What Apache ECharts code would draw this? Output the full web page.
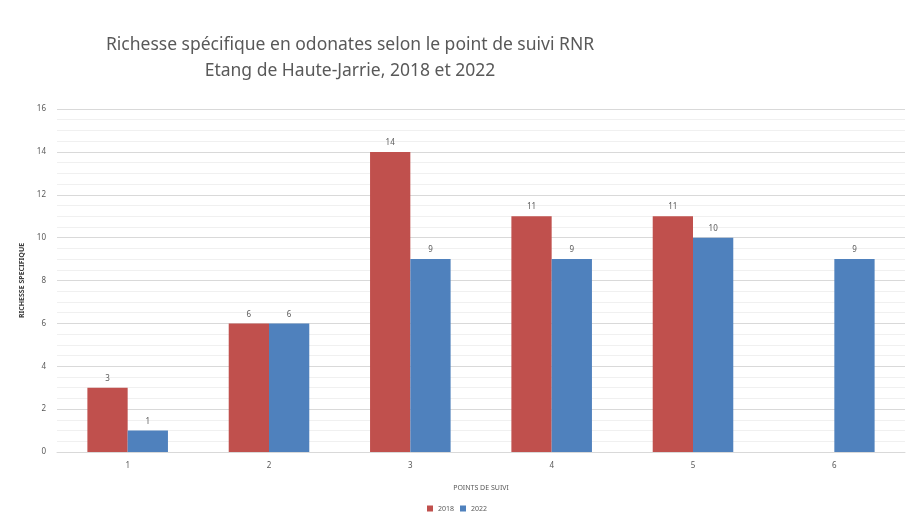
<!DOCTYPE html>
<html>
<head>
<meta charset="utf-8">
<script src="https://cdn.jsdelivr.net/npm/echarts@6/dist/echarts.min.js"></script>
<style>
html,body{margin:0;padding:0;background:#fff;}
#main{width:914px;height:517px;}
</style>
</head>
<body>
<div id="main"></div>
<script>
const categories = ['1', '2', '3', '4', '5', '6'];
const values2018 = [3, 6, 14, 11, 11, null];
const values2022 = [1, 6, 9, 9, 10, 9];
const seriesNames = ['2018', '2022'];
const titleLines = ['Richesse spécifique en odonates selon le point de suivi RNR', 'Etang de Haute-Jarrie, 2018 et 2022'];

const chart = echarts.init(document.getElementById('main'), null, {renderer: 'canvas'});
const labelStyle = {show: true, position: 'top', color: '#595959', fontSize: 8, distance: 5, fontFamily: 'Noto Sans'};
chart.setOption({
  animation: false,
  backgroundColor: '#fff',
  title: {
    text: titleLines.join('\n'),
    left: 345, top: 27, textAlign: 'center',
    textStyle: {fontFamily: 'Noto Sans', fontWeight: 'normal', fontSize: 17.5, color: '#595959', lineHeight: 26}
  },
  legend: {
    data: seriesNames, bottom: 0, left: 'center',
    itemWidth: 6, itemHeight: 6, itemGap: 6, icon: 'rect',
    textStyle: {fontSize: 7, color: '#595959', fontFamily: 'Noto Sans'}
  },
  grid: {left: 57, right: 9, top: 109, bottom: 65},
  xAxis: {
    type: 'category', data: categories,
    name: 'POINTS DE SUIVI', nameLocation: 'middle', nameGap: 32,
    nameTextStyle: {fontSize: 7, color: '#595959', fontFamily: 'Noto Sans'},
    axisLine: {lineStyle: {color: '#d9d9d9'}},
    axisTick: {show: false},
    axisLabel: {fontSize: 8, color: '#595959', margin: 10, fontFamily: 'Noto Sans'}
  },
  yAxis: {
    type: 'value', min: 0, max: 16, interval: 2,
    name: 'RICHESSE SPECIFIQUE', nameLocation: 'middle', nameGap: 30,
    nameTextStyle: {fontSize: 7, color: '#404040', fontFamily: 'Noto Sans', fontWeight: 'bold'},
    axisLine: {show: false}, axisTick: {show: false},
    axisLabel: {fontSize: 8, color: '#595959', margin: 11, fontFamily: 'Noto Sans'},
    splitLine: {lineStyle: {color: '#d9d9d9', width: 1}},
    minorTick: {show: false, splitNumber: 4},
    minorSplitLine: {show: true, lineStyle: {color: '#f0f0f0', width: 1}}
  },
  series: [
    {name: seriesNames[0], type: 'bar', data: values2018, barGap: '0%', barCategoryGap: '43%',
     itemStyle: {color: '#c0504d'}, label: labelStyle},
    {name: seriesNames[1], type: 'bar', data: values2022, barGap: '0%', barCategoryGap: '43%',
     itemStyle: {color: '#4f81bd'}, label: labelStyle}
  ]
});
</script>
</body>
</html>
